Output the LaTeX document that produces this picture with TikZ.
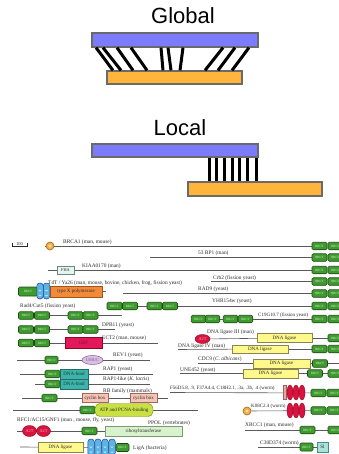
\documentclass[tikz,border=0pt]{standalone}
\usepackage{fontspec}
\setmainfont{Liberation Serif}
\newfontfamily\headfont{Liberation Sans}
\usetikzlibrary{shapes.geometric}
\pgfdeclarelayer{back}
\pgfsetlayers{back,main}

\definecolor{barblue}{HTML}{7B7BFC}
\definecolor{barorange}{HTML}{FFB43C}
\definecolor{bargray}{HTML}{6A6A6A}
\definecolor{brctfill}{HTML}{3E9B2F}
\definecolor{brctdk}{HTML}{1F4A12}
\definecolor{brcttx}{HTML}{D8F0C8}
\definecolor{ligfill}{HTML}{FFF98C}
\definecolor{ligdk}{HTML}{8A8450}
\definecolor{geffill}{HTML}{E3175B}
\definecolor{geftx}{HTML}{80102E}
\definecolor{a2tfill}{HTML}{D9123F}
\definecolor{a2tdk}{HTML}{8A0A20}
\definecolor{a2ttx}{HTML}{F4B0C0}
\definecolor{polfill}{HTML}{F28A3A}
\definecolor{poldk}{HTML}{A55418}
\definecolor{hhhfill}{HTML}{5BB4E6}
\definecolor{hhhdk}{HTML}{23408A}
\definecolor{bindfill}{HTML}{3FB3AA}
\definecolor{binddk}{HTML}{1E6E68}
\definecolor{bindtx}{HTML}{0E3E3A}
\definecolor{cycfill}{HTML}{F6C3B5}
\definecolor{cycdk}{HTML}{A06A5A}
\definecolor{atpfill}{HTML}{C9E043}
\definecolor{atpdk}{HTML}{6E8A18}
\definecolor{ribofill}{HTML}{D7F2CC}
\definecolor{ribodk}{HTML}{7A9A70}
\definecolor{umucfill}{HTML}{D9BDE3}
\definecolor{umucdk}{HTML}{7A5A90}
\definecolor{fhafill}{HTML}{E6F4EE}
\definecolor{fhadk}{HTML}{6A8A80}
\definecolor{slfill}{HTML}{A9E2D8}
\definecolor{sldk}{HTML}{4A8A80}
\definecolor{ringfill}{HTML}{F3AD47}
\definecolor{ringdk}{HTML}{A5661A}
\definecolor{ringin}{HTML}{FBE2B5}
\definecolor{pinkbar}{HTML}{E8A8A0}
\definecolor{pinkdk}{HTML}{A06060}
\definecolor{bbcol}{HTML}{5A5A5A}
\definecolor{labcol}{HTML}{2A2A2A}

% a pair of BRCT repeats in the right-hand column
\newcommand{\rpair}[2]{%
  \node[brct] (#1a) at (319.5,#2) {BRCT};
  \node[brct] (#1b) at (335.5,#2) {BRCT};}

\begin{document}
\begin{tikzpicture}[x=1pt,y=-1pt,
  bar/.style={draw=bargray, line width=1.3pt, inner sep=0},
  tie/.style={line width=3pt, black},
  bb/.style={draw=bbcol, line width=0.6pt},
  lab/.style={anchor=base west, inner sep=0, font=\fontsize{5.4}{6}\selectfont, text=labcol},
  smlab/.style={lab, font=\fontsize{5}{6}\selectfont},
  brct/.style={rectangle, rounded corners=1.3pt, draw=brctdk, fill=brctfill,
    line width=0.55pt, minimum width=15pt, minimum height=7.5pt, inner sep=0,
    font=\fontsize{3.2}{3.5}\selectfont, text=brcttx},
  dom/.style={rectangle, line width=0.45pt, minimum height=9pt, inner sep=0,
    font=\fontsize{5}{6}\selectfont, text=labcol},
  lig/.style={dom, draw=ligdk, fill=ligfill},
  a2t/.style={ellipse, draw=a2tdk, fill=a2tfill, line width=0.4pt, inner sep=0,
    font=\fontsize{4.3}{5}\selectfont, text=a2ttx},
  rep/.style={ellipse, draw=a2tdk, fill=a2tfill, minimum width=6pt,
    minimum height=15pt, inner sep=0, line width=0.4pt},
  hhh/.style={rectangle, rounded corners=3pt, draw=hhhdk, fill=hhhfill,
    minimum width=6.5pt, minimum height=16pt, inner sep=0, line width=0.5pt,
    path picture={\draw[white, line width=0.4pt]
      ([yshift=-4pt]path picture bounding box.center) ++(-1.2pt,0) arc (180:360:1.2pt)
      ([yshift=1pt]path picture bounding box.center) ++(-1.2pt,0) arc (180:360:1.2pt);}},
  ring/.style={circle, draw=ringdk, fill=ringfill, minimum size=8pt, inner sep=0,
    line width=0.6pt, path picture={\fill[ringin]
      (path picture bounding box.center) circle (1.7pt);}}]

\useasboundingbox (0,0) rectangle (339,454);

% ---------- global versus local alignment ----------
\node[anchor=base, font=\headfont\fontsize{22}{26}\selectfont] (tglob) at (183,24) {Global};
\node[bar, fill=barblue, minimum width=166pt, minimum height=14pt] (gtop) at (175,40) {};
\node[bar, fill=barorange, minimum width=135pt, minimum height=13pt] (gbot) at (174.5,77.5) {};
\foreach \a/\b in {96/113,103/121,117/133,131/147,161/163,168/171,183/180,223/205,235/218,249/232}
  \draw[tie] (\a,0 |- gtop.south) -- (\b,0 |- gbot.north);

\node[anchor=base, font=\headfont\fontsize{22}{26}\selectfont] (tloc) at (180,136) {Local};
\node[bar, fill=barblue, minimum width=166pt, minimum height=13pt] (ltop) at (175,150.5) {};
\node[bar, fill=barorange, minimum width=134pt, minimum height=14pt] (lbot) at (255,189) {};
\foreach \a in {209,216,224,232,239,247,256}
  \draw[tie] (\a,0 |- ltop.south) -- (\a,0 |- lbot.north);

% ---------- BRCT domain architectures ----------
% scale bar
\node[font=\fontsize{4.5}{5}\selectfont, inner sep=0, anchor=base, text=labcol] (scl) at (19.5,245) {100};
\draw[line width=0.5pt, labcol] (12,242.5) -- (12,246.5) -- (27,246.5) -- (27,242.5);

% BRCA1
\coordinate (r1s) at (45,246);
\node[ring] (r1ring) at (50,246) {};
\node[lab] (r1l) at (63,243.5) {BRCA1 (man, mouse)};
\rpair{r1}{246}

% 53BP1
\coordinate (r2s) at (150,257.5);
\node[lab] (r2l) at (198,254.5) {53 BP1 (man)};
\rpair{r2}{257.5}

% KIAA0170
\coordinate (r3s) at (48,270);
\node[dom, draw=fhadk, fill=fhafill, minimum width=17pt, minimum height=8pt,
  font=\fontsize{4.3}{5}\selectfont] (fha) at (65.5,270.5) {FHA};
\node[lab] (r3l) at (82,267.5) {KIAA0170 (man)};
\rpair{r3}{270}

% TdT
\node[lab] (tdtl) at (48,284.5) {TdT / Ya26 (man, mouse, bovine, chicken, frog, fission yeast)};
\node[brct, minimum width=19pt, minimum height=9pt] (tdtb) at (28,291.5) {BRCT};
\node[dom, draw=poldk, fill=polfill, minimum width=52pt, minimum height=11pt] (pol) at (76,291.5) {type X polymerase};
\node[hhh] (tdth1) at (40,291) {};
\node[hhh] (tdth2) at (46.5,291) {};
\coordinate (tdte) at (106,291.5);

% Crb2
\coordinate (r4s) at (211,281.5);
\node[lab] (r4l) at (213,279) {Crb2 (fission yeast)};
\rpair{r4}{281.5}

% RAD9
\coordinate (r5s) at (123,293.5);
\node[lab] (r5l) at (198,290.5) {RAD9 (yeast)};
\rpair{r5}{293.5}

% YHR154w with the Rad4/Cut5 repeats on the same line
\node[lab] (r6l) at (212,302.5) {YHR154w (yeast)};
\rpair{r6}{306}
\node[brct] (u1) at (114.5,306) {BRCT};
\node[brct] (u2) at (130,306) {BRCT};
\node[brct] (u3) at (154.5,306) {BRCT};
\node[brct] (u4) at (170,306) {BRCT};

% Rad4/Cut5
\node[lab] (rdl) at (20,307) {Rad4/Cut5 (fission yeast)};
\node[brct] (la1) at (26,315.5) {BRCT};
\node[brct] (la2) at (42,315.5) {BRCT};
\node[brct] (la3) at (75.5,315.5) {BRCT};
\node[brct] (la4) at (90.5,315.5) {BRCT};
\coordinate (lae) at (122,315.5);

% C19G10.7
\node[brct, minimum width=14.5pt] (c1) at (198.5,319) {BRCT};
\node[brct, minimum width=14.5pt] (c2) at (212.5,319) {BRCT};
\node[brct, minimum width=14.5pt] (c3) at (230.5,319) {BRCT};
\node[brct, minimum width=14.5pt] (c4) at (245.5,319) {BRCT};
\node[smlab] (c19l) at (258,316.5) {C19G10.7 (fission yeast)};
\rpair{r7}{319}

% DPB11
\node[brct] (d1) at (26,329.5) {BRCT};
\node[brct] (d2) at (42,329.5) {BRCT};
\node[brct] (d3) at (75.5,329.5) {BRCT};
\node[brct] (d4) at (90.5,329.5) {BRCT};
\coordinate (de) at (115,329.5);
\node[lab] (dl) at (102,326.5) {DPB11 (yeast)};

% ECT2
\node[brct] (e1) at (26,343) {BRCT};
\node[brct] (e2) at (42,343) {BRCT};
\node[dom, draw=a2tdk, fill=geffill, text=geftx, minimum width=37pt, minimum height=11pt] (gef) at (83.5,343) {GEF};
\coordinate (ee) at (158,343);
\node[lab] (el) at (102,339.5) {ECT2 (man, mouse)};

% DNA ligase III
\node[a2t, minimum width=15pt, minimum height=9pt] (l3z) at (202.5,339) {A2T};
\node[lab] (l3l) at (207,333) {DNA ligase III (man)};
\node[lig, minimum width=55pt] (lig3) at (284.5,338) {DNA ligase};
\node[brct] (l3b) at (335.5,338) {BRCT};

% DNA ligase IV
\coordinate (g4s) at (178,349.5);
\node[lab] (g4l) at (178,347.5) {DNA ligase IV (man)};
\node[lig, minimum width=56pt, minimum height=8.5pt] (lig4) at (260,349) {DNA ligase};
\rpair{g4}{349}

% REV1
\coordinate (rvs) at (17,360);
\node[brct, minimum width=13pt] (rvb) at (51.5,360) {BRCT};
\node[ellipse, draw=umucdk, fill=umucfill, line width=0.45pt, inner sep=0,
  minimum width=21pt, minimum height=9pt, font=\fontsize{4.3}{5}\selectfont, text=umucdk] (umuc) at (92.5,360) {UMUC};
\coordinate (rve) at (150,360);
\node[lab] (rvl) at (113,356.5) {REV1 (yeast)};

% CDC9
\coordinate (c9s) at (198,363.5);
\node[lab] (c9l) at (198,360.5) {CDC9 (\textit{C. albicans})};
\node[lig, minimum width=57pt] (lig9) at (281.5,363.5) {DNA ligase};
\node[brct] (c9b) at (320,363.5) {BRCT};
\coordinate (c9e) at (341,363.5);

% RAP1
\coordinate (rps) at (20,374);
\node[brct] (rpb) at (52.5,374) {BRCT};
\node[dom, draw=binddk, fill=bindfill, text=bindtx, minimum width=28pt, minimum height=10pt] (rpd) at (74,374) {DNA-bind};
\coordinate (rpe) at (153,374);
\node[lab] (rpl) at (103,370.5) {RAP1 (yeast)};

% UNE452
\coordinate (uns) at (180,373.5);
\node[lab] (unl) at (180,371.5) {UNE452 (yeast)};
\node[lig, minimum width=55pt] (ligu) at (270.5,373.5) {DNA ligase};
\node[brct] (unb1) at (315,373.5) {BRCT};
\node[brct] (unb2) at (335.5,373.5) {BRCT};

% RAP1-like
\coordinate (rls) at (35,384);
\node[brct] (rlb) at (52.5,384) {BRCT};
\node[dom, draw=binddk, fill=bindfill, text=bindtx, minimum width=28pt, minimum height=10pt] (rld) at (74,384) {DNA-bind};
\coordinate (rle) at (150,384);
\node[lab] (rll) at (103,380.5) {RAP1-like (\textit{K. lactis})};

% F56D5.8 and relatives
\coordinate (fs) at (170,392.5);
\node[smlab] (fl) at (170,389) {F56D5.8, .9, F37A4.4, C18H2.1, .3a, .3b, .4 (worm)};
\node[rectangle, draw=pinkdk, fill=pinkbar, line width=0.4pt, inner sep=0,
  minimum width=3.5pt, minimum height=14pt] (fpk) at (284.5,392.5) {};
\node[rep] (fr1) at (290,392.5) {};
\node[rep] (fr2) at (296,392.5) {};
\node[rep] (fr3) at (302,392.5) {};
\node[brct] (fb1) at (318.5,393) {BRCT};
\node[brct] (fb2) at (334.5,393) {BRCT};

% RB family
\coordinate (rbs) at (22,398);
\node[brct] (rbb) at (49.5,398) {BRCT};
\node[dom, draw=cycdk, fill=cycfill, minimum width=26pt] (cy1) at (95,398) {cyclin box};
\node[dom, draw=cycdk, fill=cycfill, minimum width=27pt] (cy2) at (143.5,398) {cyclin box};
\coordinate (rbe) at (168,398);
\node[lab] (rbl) at (103,392.5) {RB family (mammals)};

% RFC1
\coordinate (ats) at (13,410);
\node[brct] (atb) at (87.5,410) {BRCT};
\node[dom, rounded corners=5pt, draw=atpdk, fill=atpfill, minimum width=58pt, minimum height=13pt] (atp) at (124,410) {ATP and PCNA-binding};
\coordinate (ate) at (198,410);
\node[lab] (rfl) at (17,421) {RFC1/AC15/GNF1 (man , mouse, fly, yeast)};

% K08C2.4
\node[ring] (kring) at (247,411) {};
\node[smlab] (kl) at (251,407.5) {K08C2.4 (worm)};
\node[rep] (kr1) at (290,410.5) {};
\node[rep] (kr2) at (296,410.5) {};
\node[rep] (kr3) at (302,410.5) {};
\node[brct] (kb1) at (318.5,410.5) {BRCT};
\node[brct] (kb2) at (334.5,410.5) {BRCT};

% PPOL
\node[lab] (ppl) at (148,424.5) {PPOL (vertebrates)};
\coordinate (pps) at (17,431);
\node[a2t, minimum width=14pt, minimum height=11pt] (pz1) at (29.5,431) {A2T};
\node[a2t, minimum width=14pt, minimum height=11pt] (pz2) at (43.5,431) {A2T};
\node[brct] (ppb) at (89.5,431) {BRCT};
\node[dom, draw=ribodk, fill=ribofill, minimum width=77pt, minimum height=10pt] (ribo) at (143.5,431) {ribosyltransferase};

% XRCC1
\coordinate (xs) at (245,430);
\node[lab] (xl) at (245,426.5) {XRCC1 (man, mouse)};
\node[brct] (xb1) at (307.5,430) {BRCT};
\node[brct] (xb2) at (335.5,430) {BRCT};

% LigA
\coordinate (las) at (20,447);
\node[lig, minimum width=45pt, minimum height=10pt] (ligA) at (60.5,447) {DNA ligase};
\node[hhh, minimum height=17pt] (lh1) at (91,447.5) {};
\node[hhh, minimum height=17pt] (lh2) at (98,447.5) {};
\node[hhh, minimum height=17pt] (lh3) at (105,447.5) {};
\node[hhh, minimum height=17pt] (lh4) at (112,447.5) {};
\node[brct, minimum width=13pt, minimum height=8pt] (lab1) at (122.5,447.5) {BRCT};
\node[lab] (lal) at (133,449) {LigA (bacteria)};

% C30D374
\coordinate (cs) at (258,447);
\node[lab] (cl) at (260,444.5) {C30D374 (worm)};
\node[brct, minimum width=13pt, minimum height=8pt] (cb) at (306.5,447) {BRCT};
\node[dom, draw=sldk, fill=slfill, minimum width=11pt, minimum height=10pt] (csl) at (322.5,447) {Sl};

% protein backbones
\begin{pgfonlayer}{back}
  \draw[bb] (r1s) -- (r1a);
  \draw[bb] (r2s) -- (r2a);
  \draw[bb] (r3s) -- (r3a);
  \draw[bb] (pol) -- (tdte);
  \draw[bb] (r4s) -- (r4a);
  \draw[bb] (r5s) -- (r5a);
  \draw[bb] (u2) -- (u3);
  \draw[bb] (u4) -- (r6a);
  \draw[bb] (la2) -- (la3);
  \draw[bb] (la4) -- (lae);
  \draw[bb] (c2) -- (c3);
  \draw[bb] (c4) -- (r7a);
  \draw[bb] (d2) -- (d3);
  \draw[bb] (d4) -- (de);
  \draw[bb] (e2) -- (gef);
  \draw[bb] (gef) -- (ee);
  \draw[bb] (l3z) -- (lig3);
  \draw[bb] (lig3) -- (l3b);
  \draw[bb] (g4s) -- (lig4);
  \draw[bb] (lig4) -- (g4a);
  \draw[bb] (rvs) -- (rve);
  \draw[bb] (c9s) -- (c9e);
  \draw[bb] (rps) -- (rpe);
  \draw[bb] (uns) -- (unb2);
  \draw[bb] (rls) -- (rle);
  \draw[bb] (fs) -- (fb2);
  \draw[bb] (rbs) -- (rbe);
  \draw[bb] (ats) -- (ate);
  \draw[bb] (kring) -- (kb2);
  \draw[bb] (pps) -- (ribo);
  \draw[bb] (xs) -- (xb2);
  \draw[bb] (las) -- (lab1);
  \draw[bb] (cs) -- (csl);
\end{pgfonlayer}
\end{tikzpicture}
\end{document}
